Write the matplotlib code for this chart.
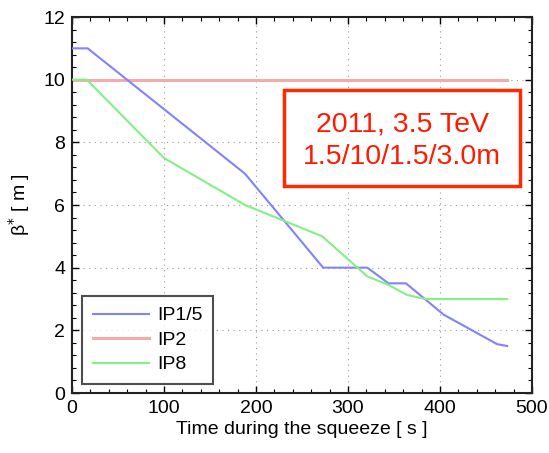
import matplotlib
matplotlib.use("Agg")
import matplotlib.pyplot as plt
from matplotlib.ticker import MultipleLocator
from matplotlib.patches import Rectangle

plt.rcParams['font.family'] = ['Liberation Sans', 'DejaVu Sans']

ip15_t = [0, 17, 188, 273, 321, 344, 363, 404, 462, 473]
ip15_b = [11, 11, 7.0, 4.0, 4.0, 3.5, 3.5, 2.5, 1.56, 1.5]
ip2_t = [0, 473]
ip2_b = [10, 10]
ip8_t = [0, 16, 100, 188, 272, 321, 344, 364, 384, 473]
ip8_b = [10, 10, 7.5, 6.0, 5.0, 3.72, 3.45, 3.13, 3.0, 3.0]
labels = ['IP1/5', 'IP2', 'IP8']

fig = plt.figure(figsize=(5.49, 4.53), dpi=100)
ax = fig.add_axes([72/549, 60/453, 460/549, 376/453])

ax.plot(ip15_t, ip15_b, color='#8282ff', lw=1.5, label=labels[0], zorder=3)
ax.plot(ip2_t, ip2_b, color='#f6abab', lw=2.2, label=labels[1], zorder=2)
ax.plot(ip8_t, ip8_b, color='#84f084', lw=1.5, label=labels[2], zorder=3)

ax.set_xlim(0, 500)
ax.set_ylim(0, 12)
ax.xaxis.set_major_locator(MultipleLocator(100))
ax.xaxis.set_minor_locator(MultipleLocator(20))
ax.yaxis.set_major_locator(MultipleLocator(2))
ax.yaxis.set_minor_locator(MultipleLocator(0.4))
ax.tick_params(which='both', direction='in', top=True, right=True, labelsize=14)
ax.tick_params(which='major', length=5, width=1, pad=5)
ax.tick_params(which='minor', length=3, width=0.8)
ax.grid(True, which='major', linestyle=(0, (1, 4)), color='#999999', lw=0.8)
for s in ax.spines.values():
    s.set_linewidth(1.5)
    s.set_color('#222222')

ax.set_xlabel('Time during the squeeze [ s ]', fontsize=14, labelpad=3)
ax.set_ylabel('β$^{*}$ [ m ]', fontsize=14, labelpad=8)

leg = ax.legend(loc='lower left', bbox_to_anchor=(10/460, 9/376), fontsize=14,
                frameon=True, fancybox=False, handlelength=2.9, borderpad=0.55,
                labelspacing=0.35, handletextpad=0.4, borderaxespad=0)
leg.get_frame().set_edgecolor('#222222')
leg.get_frame().set_linewidth(1.5)

fig.patches.append(Rectangle((284/549, 1 - 186/453), 236/549, 96/453,
                             transform=fig.transFigure, fill=True, facecolor='white',
                             edgecolor='#ff2a00', lw=2.5, zorder=5))
fig.text(402/549, 1 - 124/453, '2011, 3.5 TeV', color='#ff1a00', fontsize=20.5,
         ha='center', va='center', zorder=6)
fig.text(402/549, 1 - 157/453, '1.5/10/1.5/3.0m', color='#ff1a00', fontsize=20.5,
         ha='center', va='center', zorder=6)

fig.savefig('out.png', dpi=100)
